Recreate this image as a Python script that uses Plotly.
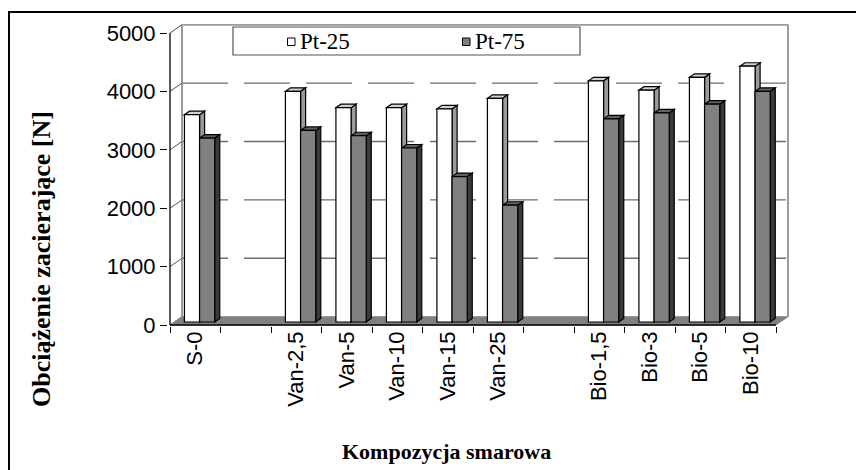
import plotly.graph_objects as go

# ---- data -----------------------------------------------------------------
categories = ["S-0", " ", "Van-2,5", "Van-5", "Van-10", "Van-15", "Van-25", "  ",
              "Bio-1,5", "Bio-3", "Bio-5", "Bio-10"]
pt25 = [3550, None, 3950, 3670, 3670, 3650, 3830, None, 4130, 3970, 4190, 4380]
pt75 = [3150, None, 3280, 3190, 2980, 2490, 2000, None, 3480, 3580, 3730, 3950]
series_names = ["Pt-25", "Pt-75"]
y_ticks = [0, 1000, 2000, 3000, 4000, 5000]

# ---- geometry of the oblique 3-D box (pixels) ------------------------------
W, H = 856, 470
CAT_PX = 50.5            # width of one category slot
UNIT_PX = 0.0584         # pixels per newton
DEPTH_PX = (12.0, 8.3)   # back wall offset (right, up)
AX_LEFT_PX = 170         # front value axis
AX_ZERO_PX = 325         # front category axis
M_L, M_R, M_T, M_B = 168, 66, 24, 144
plot_w = W - M_L - M_R
plot_h = H - M_T - M_B

n = len(categories)
x_lo, x_hi = -0.5, n - 0.5
x_min = x_lo - (AX_LEFT_PX - M_L) / CAT_PX
x_max = x_min + plot_w / CAT_PX
y_min = -((H - M_B) - AX_ZERO_PX) / UNIT_PX
y_max = y_min + plot_h / UNIT_PX
y_top = y_ticks[-1]

DX = DEPTH_PX[0] / CAT_PX
DY = DEPTH_PX[1] / UNIT_PX
F0, F1 = 0.36, 0.78      # bar depth span (fraction of box depth)
SX, SY = F0 * DX, F0 * DY
BX, BY = (F1 - F0) * DX, (F1 - F0) * DY
BAR_W = 0.3


def px_x(p):
    return (p - M_L) / plot_w


def px_y(p):
    return (H - M_B - p) / plot_h


def poly(pts):
    return "M " + " L ".join(f"{x:.5f},{y:.3f}" for x, y in pts) + " Z"


def seg(p, q):
    return f"M {p[0]:.5f},{p[1]:.3f} L {q[0]:.5f},{q[1]:.3f}"


shapes = []
data_ref = dict(xref="x", yref="y", layer="below")

# back wall and left wall
shapes.append(dict(type="path", **data_ref, fillcolor="white", line=dict(width=0),
                   path=poly([(x_lo + DX, DY), (x_hi + DX, DY),
                              (x_hi + DX, y_top + DY), (x_lo + DX, y_top + DY)])))
shapes.append(dict(type="path", **data_ref, fillcolor="white", line=dict(width=0),
                   path=poly([(x_lo, 0), (x_lo + DX, DY),
                              (x_lo + DX, y_top + DY), (x_lo, y_top)])))

# dashed gridlines on the back wall
for v in y_ticks[1:-1]:
    shapes.append(dict(type="path", **data_ref,
                       line=dict(color="#6e6e6e", width=1.4, dash="46px,16px"),
                       path=seg((x_lo + DX, v + DY), (x_hi + DX, v + DY))))

# edges of the walls
wall_edge = dict(color="#9a9a9a", width=2)
shapes.append(dict(type="path", **data_ref, line=wall_edge,
                   path=seg((x_lo + DX, y_top + DY), (x_hi + DX, y_top + DY))))
shapes.append(dict(type="path", **data_ref, line=wall_edge,
                   path=seg((x_hi + DX, DY), (x_hi + DX, y_top + DY))))
shapes.append(dict(type="path", **data_ref, line=wall_edge,
                   path=seg((x_lo + DX, DY), (x_lo + DX, y_top + DY))))

# diagonal gridlines across the left wall
for v in y_ticks:
    shapes.append(dict(type="path", **data_ref, line=dict(color="#505050", width=1),
                       path=seg((x_lo, v), (x_lo + DX, v + DY))))

# floor
shapes.append(dict(type="path", **data_ref, fillcolor="#808080",
                   line=dict(color="#8c8c8c", width=1),
                   path=poly([(x_lo, 0), (x_hi, 0), (x_hi + DX, DY), (x_lo + DX, DY)])))

# top and side faces of the columns
series_style = [
    (pt25, "white", "#d2d2d2", "#9a9a9a", -BAR_W),
    (pt75, "#808080", "#606060", "#3a3a3a", 0.0),
]
for values, _, top_col, side_col, off in series_style:
    for i, v in enumerate(values):
        if v is None:
            continue
        x0 = i + off + SX
        x1 = x0 + BAR_W
        top = SY + v
        shapes.append(dict(type="path", **data_ref, fillcolor=side_col,
                           line=dict(color="black", width=1.2),
                           path=poly([(x1, SY), (x1 + BX, SY + BY),
                                      (x1 + BX, top + BY), (x1, top)])))
        shapes.append(dict(type="path", **data_ref, fillcolor=top_col,
                           line=dict(color="black", width=1.2),
                           path=poly([(x0, top), (x1, top),
                                      (x1 + BX, top + BY), (x0 + BX, top + BY)])))

# front axis lines
shapes.append(dict(type="path", xref="x", yref="y", layer="above",
                   line=dict(color="black", width=1.3),
                   path=seg((x_lo, 0), (x_lo, y_top))))
shapes.append(dict(type="path", xref="x", yref="y", layer="above",
                   line=dict(color="black", width=1.3),
                   path=seg((x_lo, 0), (x_hi, 0))))

# chart frame
shapes.append(dict(type="rect", xref="paper", yref="paper", layer="above",
                   x0=px_x(9), x1=px_x(W + 20), y0=px_y(H + 20), y1=px_y(12),
                   line=dict(color="black", width=2), fillcolor="rgba(0,0,0,0)"))

# legend box and keys
shapes.append(dict(type="rect", xref="paper", yref="paper", layer="above",
                   x0=px_x(233), x1=px_x(580), y0=px_y(55), y1=px_y(27),
                   line=dict(color="#555555", width=1.2), fillcolor="white"))
legend_keys = [(287.5, "white"), (462.5, "#808080")]
annotations = []
for (kx, kcol), name in zip(legend_keys, series_names):
    shapes.append(dict(type="rect", xref="paper", yref="paper", layer="above",
                       x0=px_x(kx), x1=px_x(kx + 7.5), y0=px_y(45.5), y1=px_y(38),
                       line=dict(color="black", width=1), fillcolor=kcol))
    annotations.append(dict(xref="paper", yref="paper", x=px_x(kx + 10.5), y=px_y(41.5),
                            xanchor="left", yanchor="middle", showarrow=False, text=name,
                            font=dict(family="Liberation Serif", size=23, color="black")))

# axis titles
annotations.append(dict(xref="paper", yref="paper", x=px_x(446), y=px_y(451),
                        xanchor="center", yanchor="middle", showarrow=False,
                        text="<b>Kompozycja smarowa</b>",
                        font=dict(family="Liberation Serif", size=22, color="black")))
annotations.append(dict(xref="paper", yref="paper", x=px_x(41), y=px_y(259),
                        xanchor="center", yanchor="middle", showarrow=False, textangle=-90,
                        text="<b>Obciążenie zacierające [N]</b>",
                        font=dict(family="Liberation Serif", size=26, color="black")))

fig = go.Figure()
for (values, front_col, _, _, off), name in zip(series_style, series_names):
    fig.add_trace(go.Bar(
        x=categories, y=values, base=SY, name=name,
        offset=off + SX, width=BAR_W,
        marker=dict(color=front_col, line=dict(color="black", width=1.2)),
        showlegend=False, hoverinfo="x+y+name",
    ))

fig.update_layout(
    width=W, height=H,
    margin=dict(l=M_L, r=M_R, t=M_T, b=M_B),
    paper_bgcolor="white", plot_bgcolor="white",
    barmode="overlay",
    showlegend=False,
    shapes=shapes,
    annotations=annotations,
    font=dict(family="Liberation Sans", color="black"),
    xaxis=dict(
        type="category", categoryorder="array", categoryarray=categories,
        range=[x_min, x_max], tickson="boundaries", ticks="outside",
        ticklen=6, tickwidth=1.2, tickcolor="black", tickangle=-90,
        showgrid=False, zeroline=False, showline=False,
        tickfont=dict(family="Liberation Sans", size=22, color="black"),
    ),
    yaxis=dict(
        range=[y_min, y_max], tickvals=y_ticks, ticks="outside",
        ticklen=7, tickwidth=1.2, tickcolor="black",
        showgrid=False, zeroline=False, showline=False,
        tickfont=dict(family="Liberation Sans", size=22, color="black"),
    ),
)

fig.write_html("out.html")
